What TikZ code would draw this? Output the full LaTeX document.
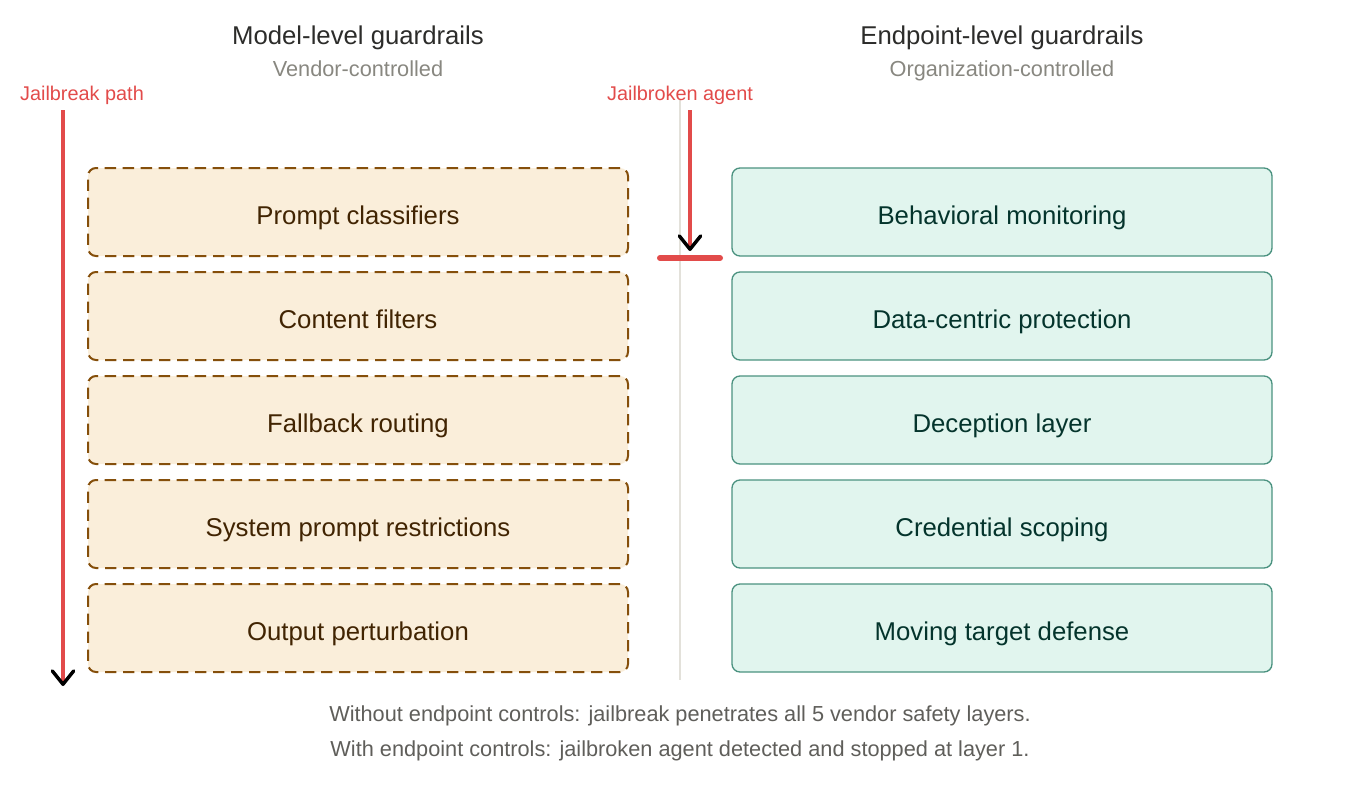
\documentclass[tikz,border=0pt]{standalone}
\usepackage{fontspec}
\setmainfont{Liberation Sans}
\usetikzlibrary{positioning,arrows.meta}

\definecolor{modelfill}{HTML}{FAEEDA}
\definecolor{modeledge}{HTML}{854F0B}
\definecolor{modeltext}{HTML}{412402}
\definecolor{endfill}{HTML}{E1F5EE}
\definecolor{endedge}{HTML}{0F6E56}
\definecolor{endtext}{HTML}{04342C}
\definecolor{headtext}{HTML}{2C2C2A}
\definecolor{subtext}{HTML}{888780}
\definecolor{jbred}{HTML}{E24B4A}
\definecolor{septext}{HTML}{5F5E5A}
\definecolor{sepline}{HTML}{E3E1DA}

\begin{document}
\begin{tikzpicture}[x=0.75pt,y=-0.75pt,
	modelbox/.style={rectangle,rounded corners=6pt,draw=modeledge,fill=modelfill,line width=1.5pt,dash pattern=on 8.5pt off 5pt,minimum width=405pt,minimum height=66pt,outer sep=0pt,text height=18.3pt,text depth=0pt,text=modeltext,font=\fontsize{19.3}{23}\selectfont},
	endbox/.style={rectangle,rounded corners=6pt,draw=endedge!75!white,fill=endfill,line width=1pt,minimum width=405pt,minimum height=66pt,outer sep=0pt,text height=18.3pt,text depth=0pt,text=endtext,font=\fontsize{19.3}{23}\selectfont},
	headnode/.style={anchor=base,text=headtext,font=\fontsize{19.3}{23}\selectfont},
	subnode/.style={anchor=base,text=subtext,font=\fontsize{16.3}{20}\selectfont},
	rednode/.style={anchor=base,text=jbred,font=\fontsize{14.9}{18}\selectfont},
	footnode/.style={anchor=base,text=septext,font=\fontsize{16.3}{20}\selectfont},
	jbarrow/.style={draw=jbred,line width=3pt,-{Straight Barb[black,length=10pt,width=16pt,line width'=2.6pt,round]}}]
		\useasboundingbox (0,0) rectangle (1360,800);

		% separator
		\coordinate (sep1) at (680,100);
		\coordinate (sep2) at (680,680);
		\draw[sepline,line width=1pt] (sep1) -- (sep2);

		% headings
		\node[headnode]							(mhead)		at (358,44)		{Model-level guardrails};
		\node[subnode]							(msub)		at (358,76)		{Vendor-controlled};
		\node[headnode]							(ehead)		at (1002,44)	{Endpoint-level guardrails};
		\node[subnode]							(esub)		at (1002,76)	{Organization-controlled};

		% model-level layers
		\node[modelbox]							(m1)		at (358,212)	{Prompt classifiers};
		\node[modelbox,below=12pt of m1]		(m2)						{Content filters};
		\node[modelbox,below=12pt of m2]		(m3)						{Fallback routing};
		\node[modelbox,below=12pt of m3]		(m4)						{System prompt restrictions};
		\node[modelbox,below=12pt of m4]		(m5)						{Output perturbation};

		% endpoint-level layers
		\node[endbox,right=78pt of m1]			(e1)		{Behavioral monitoring};
		\node[endbox,right=78pt of m2]			(e2)		{Data-centric protection};
		\node[endbox,right=78pt of m3]			(e3)		{Deception layer};
		\node[endbox,right=78pt of m4]			(e4)		{Credential scoping};
		\node[endbox,right=78pt of m5]			(e5)		{Moving target defense};

		% jailbreak paths
		\node[rednode]							(jbpath)	at (82,100)		{Jailbreak path};
		\node[rednode]							(jbagent)	at (680,100)	{Jailbroken agent};
		\coordinate (jbtop) at (63,110);
		\coordinate (jbend) at (63,686);
		\coordinate (agtop) at (690,110);
		\coordinate (agend) at (690,251);
		\coordinate (stopl) at (660,258);
		\coordinate (stopr) at (720,258);

		\draw[jbarrow] (jbtop) -- (jbend);
		\draw[jbarrow] (agtop) -- (agend);
		\draw[jbred,line width=4.5pt,line cap=round] (stopl) -- (stopr);

		% footer
		\node[footnode]							(note1)		at (680,721)	{Without endpoint controls: jailbreak penetrates all 5 vendor safety layers.};
		\node[footnode]							(note2)		at (680,756)	{With endpoint controls: jailbroken agent detected and stopped at layer 1.};
	\end{tikzpicture}
\end{document}
